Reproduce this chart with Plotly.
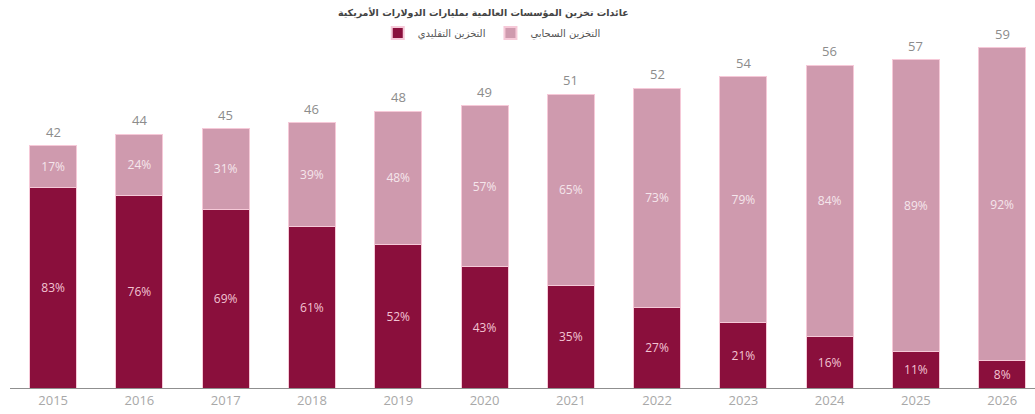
import plotly.graph_objects as go

# Global enterprise storage revenue, billions of USD
years = [2015, 2016, 2017, 2018, 2019, 2020, 2021, 2022, 2023, 2024, 2025, 2026]
totals = [42, 44, 45, 46, 48, 49, 51, 52, 54, 56, 57, 59]
traditional_pct = [83, 76, 69, 61, 52, 43, 35, 27, 21, 16, 11, 8]
cloud_pct = [17, 24, 31, 39, 48, 57, 65, 73, 79, 84, 89, 92]

title_text = "عائدات تخزين المؤسسات العالمية بمليارات الدولارات الأمريكية"
traditional_name = "التخزين التقليدي"
cloud_name = "التخزين السحابي"

DARK = "#8a0f3c"
PINK = "#cf9aae"
EDGE = "#f6c9d8"

traditional_vals = [t * p / 100 for t, p in zip(totals, traditional_pct)]
cloud_vals = [t * p / 100 for t, p in zip(totals, cloud_pct)]

fig = go.Figure()

fig.add_trace(go.Bar(
    x=years, y=traditional_vals, name=traditional_name,
    marker=dict(color=DARK, line=dict(color=EDGE, width=1)),
    text=[f"{p}%" for p in traditional_pct],
    textposition="inside", insidetextanchor="middle",
    textfont=dict(family="Open Sans", size=12, color="#f2c4d3"),
    width=0.545, hoverinfo="skip",
))
fig.add_trace(go.Bar(
    x=years, y=cloud_vals, name=cloud_name,
    marker=dict(color=PINK, line=dict(color=EDGE, width=1)),
    text=[f"{p}%" for p in cloud_pct],
    textposition="inside", insidetextanchor="middle",
    textfont=dict(family="Open Sans", size=12, color="#f5e6ec"),
    width=0.545, hoverinfo="skip",
))

# Totals above each stacked bar
for yr, tot in zip(years, totals):
    fig.add_annotation(
        x=yr, y=tot, text=str(tot), showarrow=False,
        yanchor="middle", yshift=14,
        font=dict(family="Open Sans", size=13, color="#8c8c8c"),
    )

fig.update_layout(
    barmode="stack",
    width=1035, height=414,
    margin=dict(l=10, r=0, t=33, b=26, autoexpand=False),
    paper_bgcolor="white", plot_bgcolor="white",
    title=dict(
        text=f"<b>{title_text}</b>",
        x=0.467, xanchor="center", y=0.969, yanchor="middle",
        xref="container", yref="container",
        font=dict(family="DejaVu Sans", size=9.5, color="#444444"),
    ),
    legend=dict(
        orientation="h", traceorder="normal",
        x=0.47, xanchor="center", y=0.92, yanchor="middle",
        yref="container",
        font=dict(family="DejaVu Sans", size=10, color="#555555"),
        itemsizing="constant", bgcolor="rgba(0,0,0,0)",
    ),
    xaxis=dict(
        range=[2014.5, 2026.38], tickmode="array", tickvals=years,
        ticktext=[str(y) for y in years], showgrid=False, zeroline=False,
        showline=True, linecolor="#8f8f8f", linewidth=1, ticks="",
        tickfont=dict(family="Open Sans", size=13, color="#a8a8a8"),
        fixedrange=True,
    ),
    yaxis=dict(
        range=[0, 61.6], visible=False, showgrid=False, zeroline=False,
        fixedrange=True,
    ),
)

fig.write_html("out.html")
